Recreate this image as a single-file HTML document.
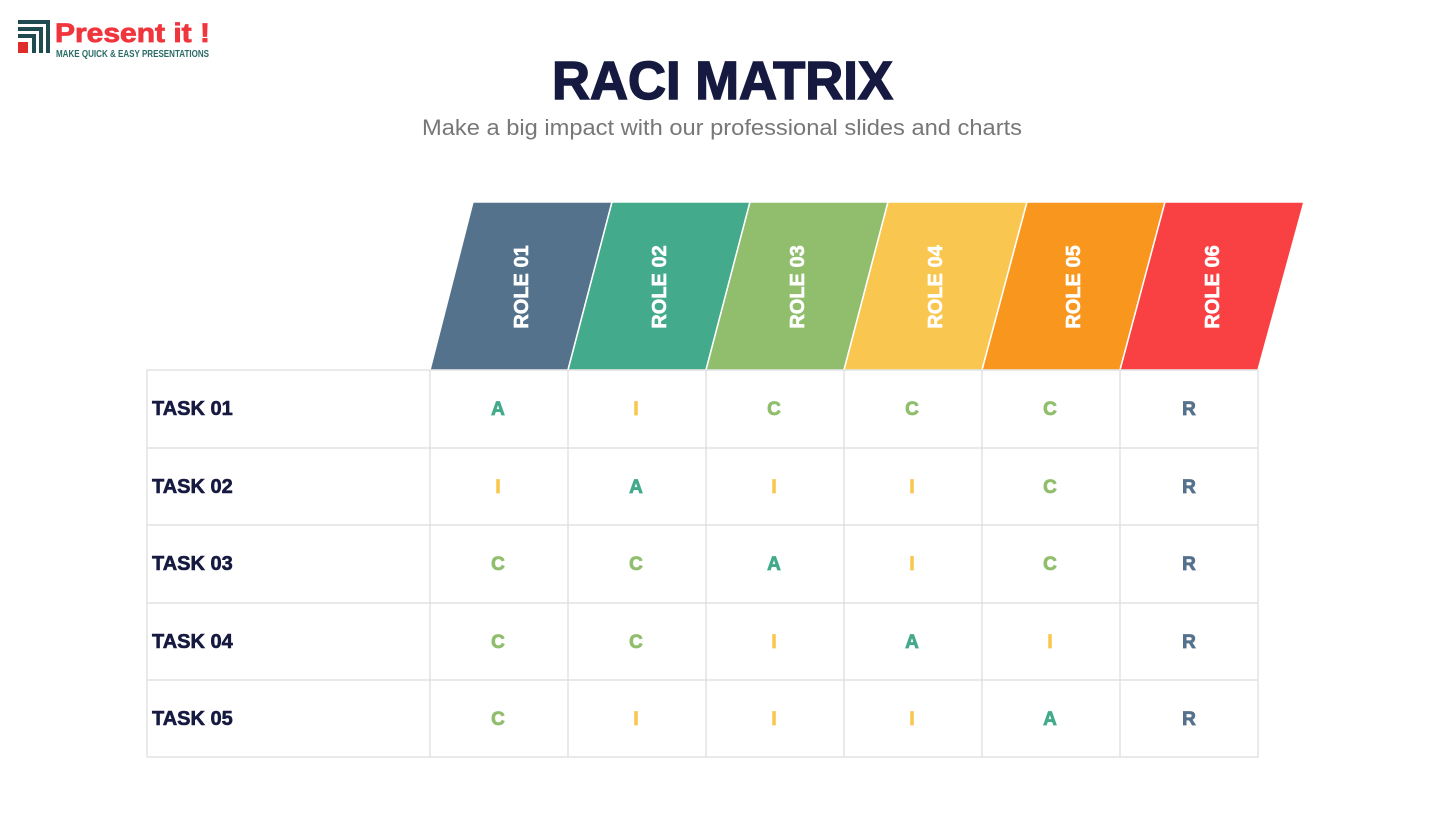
<!DOCTYPE html>
<html><head><meta charset="utf-8"><style>
html,body{margin:0;padding:0;background:#fff;}
body{width:1445px;height:813px;overflow:hidden;font-family:"Liberation Sans",sans-serif;}
</style></head><body>
<svg width="1445" height="813" viewBox="0 0 1445 813" xmlns="http://www.w3.org/2000/svg" font-family="Liberation Sans, sans-serif">
<g fill="#1f4a4f">
<rect x="18" y="20" width="32" height="4"/>
<rect x="46" y="20" width="4" height="33"/>
<rect x="18" y="27" width="25" height="4"/>
<rect x="39" y="27" width="4" height="26"/>
<rect x="18" y="34" width="18" height="4"/>
<rect x="32" y="34" width="4" height="19"/>
</g>
<rect x="18" y="42" width="10" height="11" fill="#e02b2b"/>
<text x="55" y="42" font-size="27" font-weight="bold" fill="#f0353d" stroke="#f0353d" stroke-width="0.8" textLength="155" lengthAdjust="spacingAndGlyphs">Present it !</text>
<text x="56" y="57" font-size="10.5" font-weight="bold" fill="#2a6a66" textLength="153" lengthAdjust="spacingAndGlyphs">MAKE QUICK &amp; EASY PRESENTATIONS</text>
<text x="552" y="99" font-size="54" font-weight="bold" fill="#161a40" stroke="#161a40" stroke-width="1.5" textLength="341" lengthAdjust="spacingAndGlyphs">RACI MATRIX</text>
<text x="722" y="135" text-anchor="middle" font-size="22" fill="#777" textLength="600" lengthAdjust="spacingAndGlyphs">Make a big impact with our professional slides and charts</text>
<g stroke="#fff" stroke-width="1.5">
<polygon points="430,370 473,202 612,202 568,370" fill="#55728d"/>
<polygon points="568,370 612,202 750,202 706,370" fill="#43aa8b"/>
<polygon points="706,370 750,202 888,202 844,370" fill="#90be6d"/>
<polygon points="844,370 888,202 1027,202 982,370" fill="#f9c74f"/>
<polygon points="982,370 1027,202 1165,202 1120,370" fill="#f8961e"/>
<polygon points="1120,370 1165,202 1304,202 1258,370" fill="#f94144"/>
</g>
<g fill="#fff" stroke="#fff" stroke-width="0.6" font-size="20" font-weight="bold" text-anchor="middle">
<text transform="translate(528,287) rotate(-90)">ROLE 01</text>
<text transform="translate(666,287) rotate(-90)">ROLE 02</text>
<text transform="translate(804,287) rotate(-90)">ROLE 03</text>
<text transform="translate(942,287) rotate(-90)">ROLE 04</text>
<text transform="translate(1080,287) rotate(-90)">ROLE 05</text>
<text transform="translate(1219,287) rotate(-90)">ROLE 06</text>
</g>
<g stroke="#dcdcdc" stroke-width="1.2" fill="none">
<rect x="147" y="370" width="1111" height="387"/>
<line x1="147" y1="448" x2="1258" y2="448"/>
<line x1="147" y1="525" x2="1258" y2="525"/>
<line x1="147" y1="603" x2="1258" y2="603"/>
<line x1="147" y1="680" x2="1258" y2="680"/>
<line x1="430" y1="370" x2="430" y2="757"/>
<line x1="568" y1="370" x2="568" y2="757"/>
<line x1="706" y1="370" x2="706" y2="757"/>
<line x1="844" y1="370" x2="844" y2="757"/>
<line x1="982" y1="370" x2="982" y2="757"/>
<line x1="1120" y1="370" x2="1120" y2="757"/>
</g>
<g font-size="20" font-weight="bold" fill="#161a40" stroke="#161a40" stroke-width="0.6">
<text x="152" y="415">TASK 01</text>
<text x="152" y="493">TASK 02</text>
<text x="152" y="570">TASK 03</text>
<text x="152" y="648">TASK 04</text>
<text x="152" y="725">TASK 05</text>
</g>
<g font-size="19" font-weight="bold" text-anchor="middle" stroke-width="0.8">
<text x="498" y="415" fill="#43aa8b" stroke="#43aa8b">A</text><text x="636" y="415" fill="#f9c74f" stroke="#f9c74f">I</text><text x="774" y="415" fill="#90be6d" stroke="#90be6d">C</text><text x="912" y="415" fill="#90be6d" stroke="#90be6d">C</text><text x="1050" y="415" fill="#90be6d" stroke="#90be6d">C</text><text x="1189" y="415" fill="#55728d" stroke="#55728d">R</text>
<text x="498" y="493" fill="#f9c74f" stroke="#f9c74f">I</text><text x="636" y="493" fill="#43aa8b" stroke="#43aa8b">A</text><text x="774" y="493" fill="#f9c74f" stroke="#f9c74f">I</text><text x="912" y="493" fill="#f9c74f" stroke="#f9c74f">I</text><text x="1050" y="493" fill="#90be6d" stroke="#90be6d">C</text><text x="1189" y="493" fill="#55728d" stroke="#55728d">R</text>
<text x="498" y="570" fill="#90be6d" stroke="#90be6d">C</text><text x="636" y="570" fill="#90be6d" stroke="#90be6d">C</text><text x="774" y="570" fill="#43aa8b" stroke="#43aa8b">A</text><text x="912" y="570" fill="#f9c74f" stroke="#f9c74f">I</text><text x="1050" y="570" fill="#90be6d" stroke="#90be6d">C</text><text x="1189" y="570" fill="#55728d" stroke="#55728d">R</text>
<text x="498" y="648" fill="#90be6d" stroke="#90be6d">C</text><text x="636" y="648" fill="#90be6d" stroke="#90be6d">C</text><text x="774" y="648" fill="#f9c74f" stroke="#f9c74f">I</text><text x="912" y="648" fill="#43aa8b" stroke="#43aa8b">A</text><text x="1050" y="648" fill="#f9c74f" stroke="#f9c74f">I</text><text x="1189" y="648" fill="#55728d" stroke="#55728d">R</text>
<text x="498" y="725" fill="#90be6d" stroke="#90be6d">C</text><text x="636" y="725" fill="#f9c74f" stroke="#f9c74f">I</text><text x="774" y="725" fill="#f9c74f" stroke="#f9c74f">I</text><text x="912" y="725" fill="#f9c74f" stroke="#f9c74f">I</text><text x="1050" y="725" fill="#43aa8b" stroke="#43aa8b">A</text><text x="1189" y="725" fill="#55728d" stroke="#55728d">R</text>
</g>
</svg>
</body></html>
